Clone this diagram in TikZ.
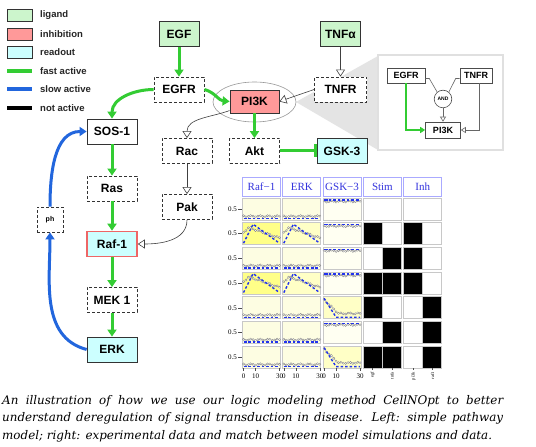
\documentclass[tikz,border=0pt]{standalone}
\usepackage{fontspec}
\setmainfont{Liberation Sans}
\newfontfamily\serifplot{Liberation Serif}
\newfontfamily\capfont{DejaVu Serif}
\usepackage{xcolor}
\usepackage{tikz}
\usetikzlibrary{arrows.meta,calc,positioning}

\definecolor{ligandfill}{HTML}{CCF5CC}
\definecolor{inhfill}{HTML}{FF9999}
\definecolor{readfill}{HTML}{CCFFFF}
\definecolor{fastgreen}{HTML}{33CC33}
\definecolor{slowblue}{HTML}{2266DD}
\definecolor{rafred}{HTML}{EE6666}
\definecolor{wedgegray}{HTML}{E4E4E4}
\definecolor{gridgray}{HTML}{C8C8C8}
\definecolor{headblue}{HTML}{3333DD}
\definecolor{headframe}{HTML}{AAAAFF}
\definecolor{simblue}{HTML}{2233EE}
\definecolor{cellcream}{HTML}{FDFDE2}
\definecolor{cellwhite}{HTML}{FFFFF2}
\definecolor{cellpale}{HTML}{FFFFC6}
\definecolor{cellyellow}{HTML}{FFFF88}

\begin{document}
\begin{tikzpicture}[x=1pt, y=1pt,
  box/.style={draw=black!80, line width=0.8pt, minimum width=50pt, minimum height=25pt, inner sep=1pt, font=\fontsize{12}{14}\selectfont\bfseries},
  dashbox/.style={box, dash pattern=on 3pt off 2pt, fill=white},
  ligbox/.style={box, fill=ligandfill, minimum width=40pt},
  readbox/.style={box, fill=readfill},
  minibox/.style={draw=black!70, line width=0.6pt, fill=white, minimum width=38pt, minimum height=15pt, inner sep=1pt, font=\fontsize{9}{10}\selectfont\bfseries},
  fast/.style={draw=fastgreen, line width=3pt, -{Triangle[length=7pt,width=9pt]}},
  slow/.style={draw=slowblue, line width=3pt, -{Triangle[length=7pt,width=9pt]}},
  weak/.style={draw=black!75, line width=0.6pt, -{Triangle[open,length=7pt,width=9pt,fill=white]}},
  thinlink/.style={draw=black!60, line width=0.6pt},
  legbox/.style={draw=black!80, line width=0.8pt, minimum width=25pt, minimum height=12pt, inner sep=0pt},
  legtext/.style={anchor=west, inner sep=0pt, font=\fontsize{9.5}{11}\selectfont\bfseries, text=black!85},
  headbox/.style={draw=headframe, line width=0.8pt, minimum width=38pt, minimum height=18.5pt, inner sep=0pt, text=headblue, font=\serifplot\fontsize{11}{12}\selectfont},
  cellframe/.style={draw=gridgray, line width=0.8pt},
  datline/.style={draw=black!35, line width=0.4pt, mark=*, mark size=1.1pt, mark options={fill=white, draw=black!50, line width=0.3pt}},
  simline/.style={draw=simblue, line width=1.4pt, dash pattern=on 2.5pt off 2pt},
  axtick/.style={draw=black!70, line width=0.4pt},
  axlab/.style={inner sep=0pt, font=\serifplot\fontsize{7}{8}\selectfont},
  captext/.style={anchor=north west, inner sep=0pt, text width=501pt, align=justify, font=\capfont\itshape\fontsize{11.9}{17.5}\selectfont},
  declare function={
    nz(\a)=0.035*sin(\a*131+40);
    dat(\a,\b)=nz(\a)+(\b==0)*0.12+(\b==1)*0.9
      +(\b==2)*((\a<4)*(0.55+0.07*\a)+(1-(\a<4))*(0.83-0.55*(\a-4)/26))
      +(\b==3)*((\a<12)*(0.92-0.06*\a)+(1-(\a<12))*0.2);
    sim(\a,\b)=(\b==1)*0.97
      +(\b==2)*((\a<8)*\a/8+(1-(\a<8))*(30-\a)/22)
      +(\b==3)*(\a<10)*(1-\a/10);
  }
]

\useasboundingbox (0,0) rectangle (536,447);
\fill[white] (0,0) rectangle (536,447);

% 图例
\foreach \yy/\cc/\lab [count=\n] in {431.5/ligandfill/ligand, 413/inhfill/inhibition, 394.5/readfill/readout}{
  \node[legbox, fill=\cc] (lb\n) at (19.5,\yy) {};
  \node[legtext] (lt\n) at (40,\yy) {\lab};
}
\foreach \yy/\cc/\lab [count=\n] in {376/fastgreen/fast active, 357.5/slowblue/slow active, 339/black/not active}{
  \coordinate (ls\n) at (7,\yy);
  \draw[line width=4pt, draw=\cc] (ls\n) -- ++(25,0);
  \node[legtext] (lk\n) at (40,\yy) {\lab};
}

% 放大区域
\fill[wedgegray] (296,345) -- (378,391) -- (378,297) -- cycle;
\draw[draw=black!12, line width=1.5pt, fill=white] (378,297) rectangle (503,392);
\draw[black!40, line width=0.6pt, fill=white] (254.5,345) ellipse (41.5 and 20);

% 通路节点
\node[ligbox] (egf) at (179,413) {EGF};
\node[ligbox] (tnfa) at (340.5,413) {TNFα};
\node[dashbox] (egfr) at (179,357.5) {EGFR};
\node[dashbox, minimum width=52pt] (tnfr) at (340.5,357.5) {TNFR};
\node[box, fill=inhfill, minimum width=49pt, minimum height=23pt] (pik) at (254.5,345.5) {PI3K};
\node[dashbox] (rac) at (187,296) {Rac};
\node[dashbox] (akt) at (254.5,296) {Akt};
\node[readbox] (gsk) at (342,296) {GSK-3};
\node[box, fill=white] (sos) at (112,315.5) {SOS-1};
\node[dashbox] (ras) at (112,258.5) {Ras};
\node[readbox, draw=rafred, line width=1.6pt] (raf) at (112,203) {Raf-1};
\node[dashbox] (mek) at (112,147) {MEK 1};
\node[readbox] (erk) at (112,97.5) {ERK};
\node[dashbox, minimum width=26pt, font=\fontsize{7}{8}\selectfont\bfseries] (ph) at (50,227.5) {ph};
\node[dashbox] (pak) at (187,240) {Pak};

% 连线
\draw[fast] (egf) -- (egfr);
\draw[fast] (egfr.east) to[out=-15,in=175] (pik.west);
\draw[fast] (egfr.west) to[out=180,in=90] (sos.north);
\draw[weak] (tnfa) -- (tnfr);
\draw[weak] (tnfr.west) -- (pik.east);
\draw[fast] (pik) -- (akt);
\draw[weak] (pik.200) to[out=200,in=90] (rac.north);
\draw[fast, -{Bar[width=13pt]}] (akt) -- (gsk);
\draw[weak] (rac) -- (pak);
\draw[weak] (pak.south) to[out=-90,in=0] (raf.east);
\draw[fast] (sos) -- (ras);
\draw[fast] (ras) -- (raf);
\draw[fast] (raf) -- (mek);
\draw[fast] (mek) -- (erk);
\draw[slow] (erk.west) to[out=165,in=-90] (ph.south);
\draw[slow] (ph.north) to[out=90,in=180] (sos.west);

% 放大框里的逻辑门
\node[minibox] (egfri) at (406,371.5) {EGFR};
\node[minibox, minimum width=32pt] (tnfri) at (476,371.5) {TNFR};
\node[draw=black!70, line width=0.6pt, fill=white, circle, minimum size=17.6pt, inner sep=0pt, font=\fontsize{5}{6}\selectfont\bfseries] (andg) at (443,348) {AND};
\node[minibox, minimum width=35pt, minimum height=16pt] (piki) at (443,317) {PI3K};
\draw[thinlink] ($(egfri.east)+(0,-3)$) -- ++(4,0) -- (andg.130);
\draw[thinlink] ($(tnfri.west)+(0,-3)$) -- ++(-4,0) -- (andg.50);
\draw[thinlink, -{Triangle[open,length=5pt,width=6pt,fill=white]}] (andg) -- (piki);
\draw[thinlink, -{Triangle[open,length=5pt,width=6pt,fill=white]}] ($(tnfri.south)+(3,0)$) |- (piki.east);
\draw[draw=fastgreen, line width=1.5pt, -{Triangle[length=5pt,width=6pt]}] (egfri.south) |- (piki.west);

% 数据表
\def\cellw{38}
\def\cellh{22}
\def\gridx{242.5}
\def\gridy{249}
\def\pitchx{40.3}
\def\pitchy{24.7}

\foreach \lab [count=\j from 0] in {Raf−1, ERK, GSK−3, Stim, Inh}
  \node[headbox] (h\j) at ({\gridx+\j*\pitchx+\cellw/2}, 260.25) {\lab};

% 曲线格子
\foreach \i/\ka/\kb/\kc/\fa/\fb/\fc in {
  0/0/0/1/cellcream/cellcream/cellwhite,
  1/2/2/1/cellyellow/cellpale/cellwhite,
  2/0/0/1/cellcream/cellcream/cellwhite,
  3/2/2/1/cellyellow/cellpale/cellwhite,
  4/0/0/3/cellcream/cellcream/cellpale,
  5/0/0/1/cellcream/cellcream/cellwhite,
  6/0/0/3/cellcream/cellcream/cellpale}{
  \pgfmathsetmacro\yt{\gridy-\i*\pitchy}
  \foreach \j/\k/\f in {0/\ka/\fa, 1/\kb/\fb, 2/\kc/\fc}{
    \pgfmathsetmacro\xl{\gridx+\j*\pitchx}
    \draw[cellframe, fill=\f] (\xl,\yt-\cellh) rectangle ++(\cellw,\cellh);
    \draw[datline] plot[samples at={0,2,...,30}] ({\xl+1+1.2*\x},{\yt-20.5+19*dat(\x,\k)});
    \draw[simline] plot[samples at={0,2,...,30}] ({\xl+1+1.2*\x},{\yt-20.5+19*sim(\x,\k)});
  }
  \node[axlab, anchor=east] (yl\i) at (237,\yt-11) {0.5};
  \draw[axtick] (238,\yt-11) -- (241.5,\yt-11);
}

% 刺激和抑制
\foreach \j in {3,4}
  \foreach \i in {0,...,6}
    \draw[cellframe, fill=white] ({\gridx+\j*\pitchx},{\gridy-\i*\pitchy-\cellh}) rectangle ++(\cellw,\cellh);
\foreach \i/\sa/\sb/\ia/\ib in {1/1/0/1/0, 2/0/1/1/0, 3/1/1/1/0, 4/1/0/0/1, 5/0/1/0/1, 6/1/1/0/1}{
  \pgfmathsetmacro\yt{\gridy-\i*\pitchy}
  \foreach \j/\l/\r in {3/\sa/\sb, 4/\ia/\ib}{
    \pgfmathsetmacro\xl{\gridx+\j*\pitchx}
    \draw[cellframe, fill=black!\l00] (\xl,\yt-\cellh) rectangle ++(\cellw/2,\cellh);
    \draw[cellframe, fill=black!\r00] (\xl+\cellw/2,\yt-\cellh) rectangle ++(\cellw/2,\cellh);
  }
}

% 坐标轴
\foreach \j in {0,1,2}
  \foreach \t in {0,10,30}{
    \coordinate (xt\j\t) at ({\gridx+\j*\pitchx+1+1.2*\t},78.5);
    \draw[axtick] (xt\j\t) -- ++(0,-2.5);
    \node[axlab] (xl\j\t) at ($(xt\j\t)+(0,-8)$) {\t};
  }
\foreach \xx/\lab [count=\n] in {372.5/egf, 392/tnfa, 413.5/pi3k, 432.5/raf1}{
  \coordinate (st\n) at (\xx,78.5);
  \draw[axtick] (st\n) -- ++(0,-2);
  \node[inner sep=0pt, font=\serifplot\fontsize{4.5}{5}\selectfont, rotate=90, anchor=east] (sl\n) at ($(st\n)+(0,-3.5)$) {\lab};
}

% 图注
\node[captext] (cap) at (2,52) {\hyphenpenalty=10000 An illustration of how we use our logic modeling method CellNOpt to better\linebreak understand deregulation of signal transduction in disease. Left: simple pathway\linebreak model; right: experimental data and match between model simulations and data.};

\end{tikzpicture}
\end{document}
